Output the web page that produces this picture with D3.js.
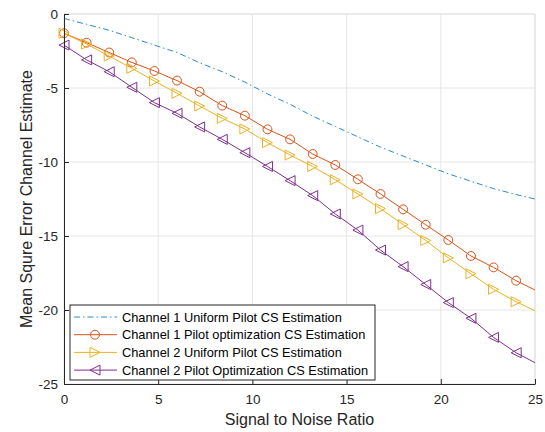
<!DOCTYPE html>
<html>
<head>
<meta charset="utf-8">
<script src="https://cdn.jsdelivr.net/npm/d3@7"></script>
<style>
  body { margin: 0; background: #fff; }
  text { font-family: "Liberation Sans", Arial, sans-serif; }
</style>
</head>
<body>
<script>
// SNR values (markers every 1.2 dB, lines run on to 25)
var snr = [0, 1.2, 2.4, 3.6, 4.8, 6, 7.2, 8.4, 9.6, 10.8, 12, 13.2, 14.4, 15.6, 16.8, 18, 19.2, 20.4, 21.6, 22.8, 24, 25];

var ch1Uniform = [-0.3, -0.7, -1.1, -1.6, -2.1, -2.6, -3.3, -3.9, -4.6, -5.4, -6.1, -6.9, -7.6, -8.3, -9.0, -9.6, -10.2, -10.8, -11.3, -11.8, -12.2, -12.5];
var ch1Opt = [-1.3, -1.94, -2.6, -3.27, -3.85, -4.5, -5.25, -6.19, -6.87, -7.79, -8.47, -9.46, -10.2, -11.17, -12.16, -13.2, -14.24, -15.27, -16.35, -17.12, -18.02, -18.65];
var ch2Uniform = [-1.3, -2.03, -2.84, -3.67, -4.53, -5.36, -6.22, -7.05, -7.77, -8.69, -9.53, -10.3, -11.2, -12.16, -13.15, -14.23, -15.3, -16.48, -17.55, -18.6, -19.44, -20.05];
var ch2Opt = [-2.1, -3.1, -3.9, -4.95, -5.99, -6.71, -7.63, -8.47, -9.37, -10.3, -11.26, -12.27, -13.51, -14.6, -15.95, -17.07, -18.28, -19.5, -20.56, -21.85, -22.89, -23.56];

var seriesNames = ["Channel 1 Uniform Pilot CS Estimation",
                   "Channel 1 Pilot optimization CS Estimation",
                   "Channel 2 Uniform Pilot CS Estimation",
                   "Channel 2 Pilot Optimization CS Estimation"];
var xTicks = [0, 5, 10, 15, 20, 25];
var yTicks = [0, -5, -10, -15, -20, -25];

var screen = {width: 545, height: 432};
var margin = {left: 64, right: 10, top: 14, bottom: 48};

var svg = d3.select("body")
            .append("svg")
            .attr("width", screen.width)
            .attr("height", screen.height);

var x = d3.scaleLinear().domain([0, 25]).range([margin.left, screen.width - margin.right]);
var y = d3.scaleLinear().domain([-25, 0]).range([screen.height - margin.bottom, margin.top]);

var series = [
  {name: seriesNames[0], values: ch1Uniform, color: "#2b8ad0", marker: "none", dash: "6,3,1.5,3"},
  {name: seriesNames[1], values: ch1Opt, color: "#D95319", marker: "circle", dash: null},
  {name: seriesNames[2], values: ch2Uniform, color: "#EDB120", marker: "right", dash: null},
  {name: seriesNames[3], values: ch2Opt, color: "#7E2F8E", marker: "left", dash: null}
];

// grid
var grid = svg.append("g").attr("stroke", "#e6e6e6").attr("stroke-width", 1);
grid.selectAll(".gx").data(xTicks).enter().append("line")
    .attr("x1", function(d) {return x(d);}).attr("x2", function(d) {return x(d);})
    .attr("y1", y(0)).attr("y2", y(-25));
grid.selectAll(".gy").data(yTicks).enter().append("line")
    .attr("x1", x(0)).attr("x2", x(25))
    .attr("y1", function(d) {return y(d);}).attr("y2", function(d) {return y(d);});

// top and right frame
svg.append("path")
   .attr("d", "M" + x(0) + "," + y(0) + "H" + x(25) + "V" + y(-25))
   .attr("fill", "none").attr("stroke", "#e0e0e0");

var line = d3.line()
             .x(function(d) {return x(d[0]);})
             .y(function(d) {return y(d[1]);});

var markerPath = function(type) {
  var s = 5;
  if (type == "circle") return d3.symbol().type(d3.symbolCircle).size(62)();
  if (type == "right") return "M" + (-s) + "," + (-s) + "L" + s + ",0L" + (-s) + "," + s + "Z";
  if (type == "left") return "M" + s + "," + (-s) + "L" + (-s) + ",0L" + s + "," + s + "Z";
  return null;
};

series.forEach(function(s) {
  var pts = snr.map(function(v, i) {return [v, s.values[i]];});
  svg.append("path")
     .datum(pts)
     .attr("d", line)
     .attr("fill", "none")
     .attr("stroke", s.color)
     .attr("stroke-width", 1)
     .attr("stroke-dasharray", s.dash);

  if (s.marker != "none") {
    svg.append("g").selectAll("path")
       .data(pts.slice(0, pts.length - 1))
       .enter()
       .append("path")
       .attr("transform", function(d) {return "translate(" + x(d[0]) + "," + y(d[1]) + ")";})
       .attr("d", markerPath(s.marker))
       .attr("fill", "none")
       .attr("stroke", s.color)
       .attr("stroke-width", 1);
  }
});

// axes (plain hyphen for negatives, like the original)
var fmt = function(d) {return String(d);};
var xAxis = d3.axisBottom(x).tickValues(xTicks).tickFormat(fmt).tickSizeInner(-5).tickSizeOuter(0).tickPadding(10);
var yAxis = d3.axisLeft(y).tickValues(yTicks).tickFormat(fmt).tickSizeInner(-5).tickSizeOuter(0).tickPadding(6);

var gx = svg.append("g").attr("transform", "translate(0," + y(-25) + ")").call(xAxis);
var gy = svg.append("g").attr("transform", "translate(" + x(0) + ",0)").call(yAxis);

[gx, gy].forEach(function(g) {
  g.select(".domain").attr("stroke", "#262626");
  g.selectAll(".tick line").attr("stroke", "#262626");
  g.selectAll(".tick text").attr("fill", "#262626").style("font-size", "13.5px")
   .style("font-family", "'Liberation Sans', Arial, sans-serif");
});

svg.append("text")
   .attr("x", (x(0) + x(25)) / 2)
   .attr("y", 425)
   .attr("text-anchor", "middle")
   .attr("fill", "#262626")
   .style("font-size", "16px")
   .text("Signal to Noise Ratio");

svg.append("text")
   .attr("transform", "translate(32," + (y(-12.5)) + ") rotate(-90)")
   .attr("text-anchor", "middle")
   .attr("fill", "#262626")
   .style("font-size", "16px")
   .text("Mean Squre Error Channel Estimate");

// legend
var legend = svg.append("g").attr("transform", "translate(70,305)");
legend.append("rect")
      .attr("x", 0).attr("y", 0)
      .attr("width", 305).attr("height", 75)
      .attr("fill", "white")
      .attr("stroke", "#262626")
      .attr("stroke-width", 1);

var rows = legend.selectAll(".row")
                 .data(series)
                 .enter()
                 .append("g")
                 .attr("transform", function(d, i) {return "translate(0," + (12 + i * 17.7) + ")";});

rows.append("line")
    .attr("x1", 4).attr("x2", 47)
    .attr("y1", 0).attr("y2", 0)
    .attr("stroke", function(d) {return d.color;})
    .attr("stroke-width", 1)
    .attr("stroke-dasharray", function(d) {return d.dash;});

rows.filter(function(d) {return d.marker != "none";})
    .append("path")
    .attr("transform", "translate(25,0)")
    .attr("d", function(d) {return markerPath(d.marker);})
    .attr("fill", "none")
    .attr("stroke", function(d) {return d.color;});

rows.append("text")
    .attr("x", 52)
    .attr("y", 4.6)
    .attr("fill", "#000")
    .style("font-size", "12.8px")
    .text(function(d) {return d.name;});
</script>
</body>
</html>
